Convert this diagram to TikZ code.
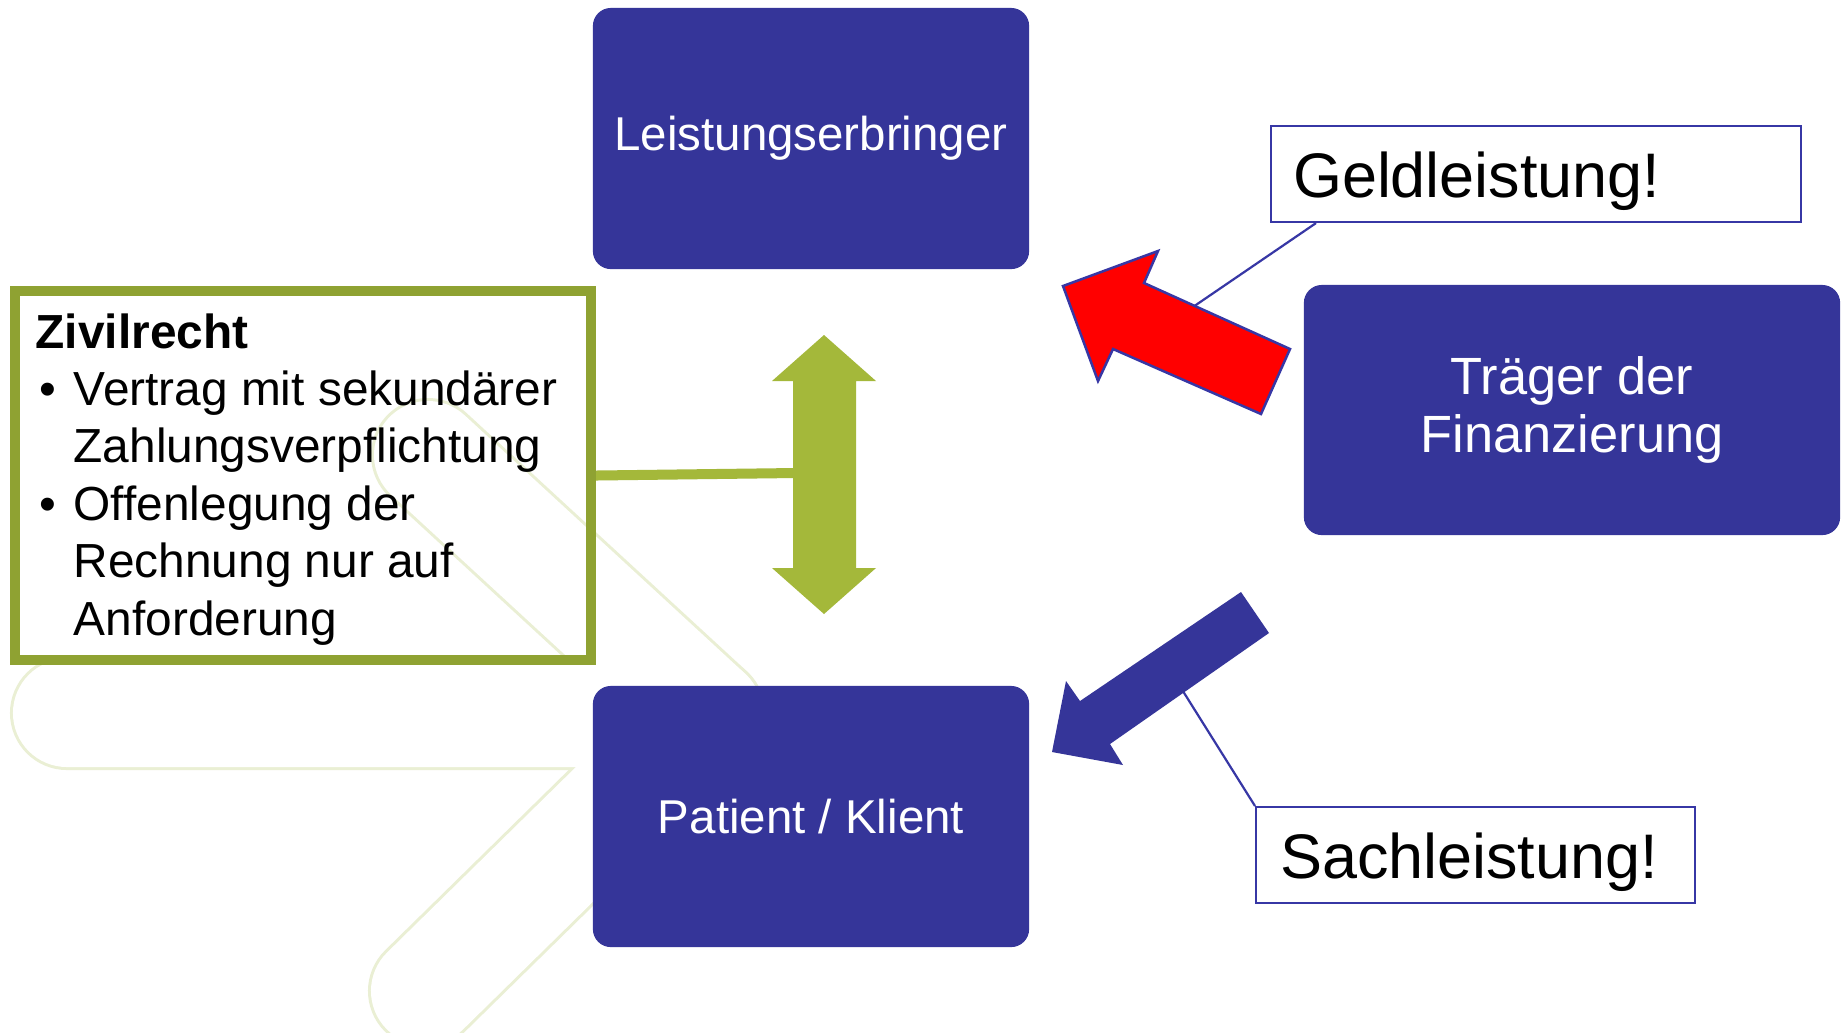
\documentclass[tikz,border=0pt]{standalone}
\usepackage{fontspec}
\setmainfont{Liberation Sans}
\definecolor{boxblue}{RGB}{53,53,153}
\definecolor{lineblue}{RGB}{55,55,165}
\definecolor{zivgreen}{RGB}{143,162,50}
\definecolor{arrgreen}{RGB}{164,184,58}
\definecolor{logotint}{RGB}{234,239,212}
\tikzset{
  bluebox/.style={fill=boxblue, rounded corners=0.18cm, text=white,
    font=\fontsize{13.5}{16.4}\selectfont, align=center, inner sep=0pt},
  callout/.style={draw=lineblue, line width=0.02cm, anchor=north west, align=left,
    inner ysep=0pt, font=\fontsize{17.9}{21}\selectfont,
    text height=0.56cm, text depth=0.10cm},
  zline/.style={anchor=base west, inner sep=0pt, font=\fontsize{13.6}{16.4}\selectfont},
  leader/.style={draw=lineblue, line width=0.022cm},
  logoedge/.style={draw=logotint, line width=1.14cm, line cap=round, line join=round},
  logofill/.style={draw=white, line width=1.08cm, line cap=round, line join=round}
}
\begin{document}
\begin{tikzpicture}[x=0.01cm,y=-0.01cm]
\useasboundingbox (0,0) rectangle (1842,1032);
\fill[white] (0,0) rectangle (1842,1032);

% faint background logo
\coordinate (LA) at (428,455);
\coordinate (LV) at (708,713);
\coordinate (LB) at (67,713);
\coordinate (LC) at (425,991);
\begin{scope}
\clip (0,0) rectangle (1842,1032);
\draw[logoedge] (LA) -- (LV) -- (LB);
\draw[logoedge] (LV) -- (LC);
\draw[logofill] (LA) -- (LV) -- (LB);
\draw[logofill] (LV) -- (LC);
\end{scope}

% Zivilrecht box
\node[draw=zivgreen, line width=0.10cm, minimum width=5.76cm, minimum height=3.69cm,
      inner sep=0pt] (zivbox) at (303,475.5) {};
\node[zline] (z0) at (35,348) {\textbf{Zivilrecht}};
\node[zline] (z1) at (39,405) {\makebox[0.34cm][l]{\textbullet}Vertrag mit sekundärer};
\node[zline] (z2) at (73,462.5) {Zahlungsverpflichtung};
\node[zline] (z3) at (39,520) {\makebox[0.34cm][l]{\textbullet}Offenlegung der};
\node[zline] (z4) at (73,577.5) {Rechnung nur auf};
\node[zline] (z5) at (73,635) {Anforderung};

% green double arrow and its connector
\coordinate (garrL) at (795,473);
\draw[arrgreen, line width=0.10cm] (zivbox.east) -- (garrL);
\fill[arrgreen] (824,335) -- (876,381) -- (856,381) -- (856,568) -- (876,568)
  -- (824,614) -- (772,568) -- (793,568) -- (793,381) -- (772,381) -- cycle;

% blue boxes
\node[bluebox, minimum width=4.36cm, minimum height=2.61cm] (leist) at (811,138.5) {Leistungserbringer};
\node[bluebox, minimum width=4.36cm, minimum height=2.61cm] (pat) at (811,816.5) {Patient / Klient};
\node[bluebox, minimum width=5.36cm, minimum height=2.50cm, font=\fontsize{14.9}{16.5}\selectfont]
  (traeger) at (1572,410) {Träger der\\Finanzierung};

% callout boxes
\node[callout, minimum width=5.30cm, minimum height=0.96cm, inner xsep=0.22cm, text width=4.86cm]
  (geld) at (1270,125) {Geldleistung!};
\node[callout, minimum width=4.39cm, minimum height=0.96cm, inner xsep=0.24cm, text width=3.91cm]
  (sach) at (1255,806) {Sachleistung!};

% leader lines (drawn beneath the arrows)
\coordinate (gend) at (1190,309);
\coordinate (send) at (1181,688);
\draw[leader] (geld.south west) ++(46,0) -- (gend);
\draw[leader] (sach.north west) -- (send);

% red arrow
\filldraw[fill=red, draw=lineblue, line width=0.025cm, line join=miter]
  (1063,286) -- (1158,251) -- (1144,283) -- (1290,349) -- (1261,414)
  -- (1113,349) -- (1098,381) -- cycle;

% blue arrow
\fill[boxblue]
  (1241,592) -- (1269,633) -- (1110,744) -- (1123,765) -- (1052,752)
  -- (1066,681) -- (1080,701) -- cycle;
\end{tikzpicture}
\end{document}
